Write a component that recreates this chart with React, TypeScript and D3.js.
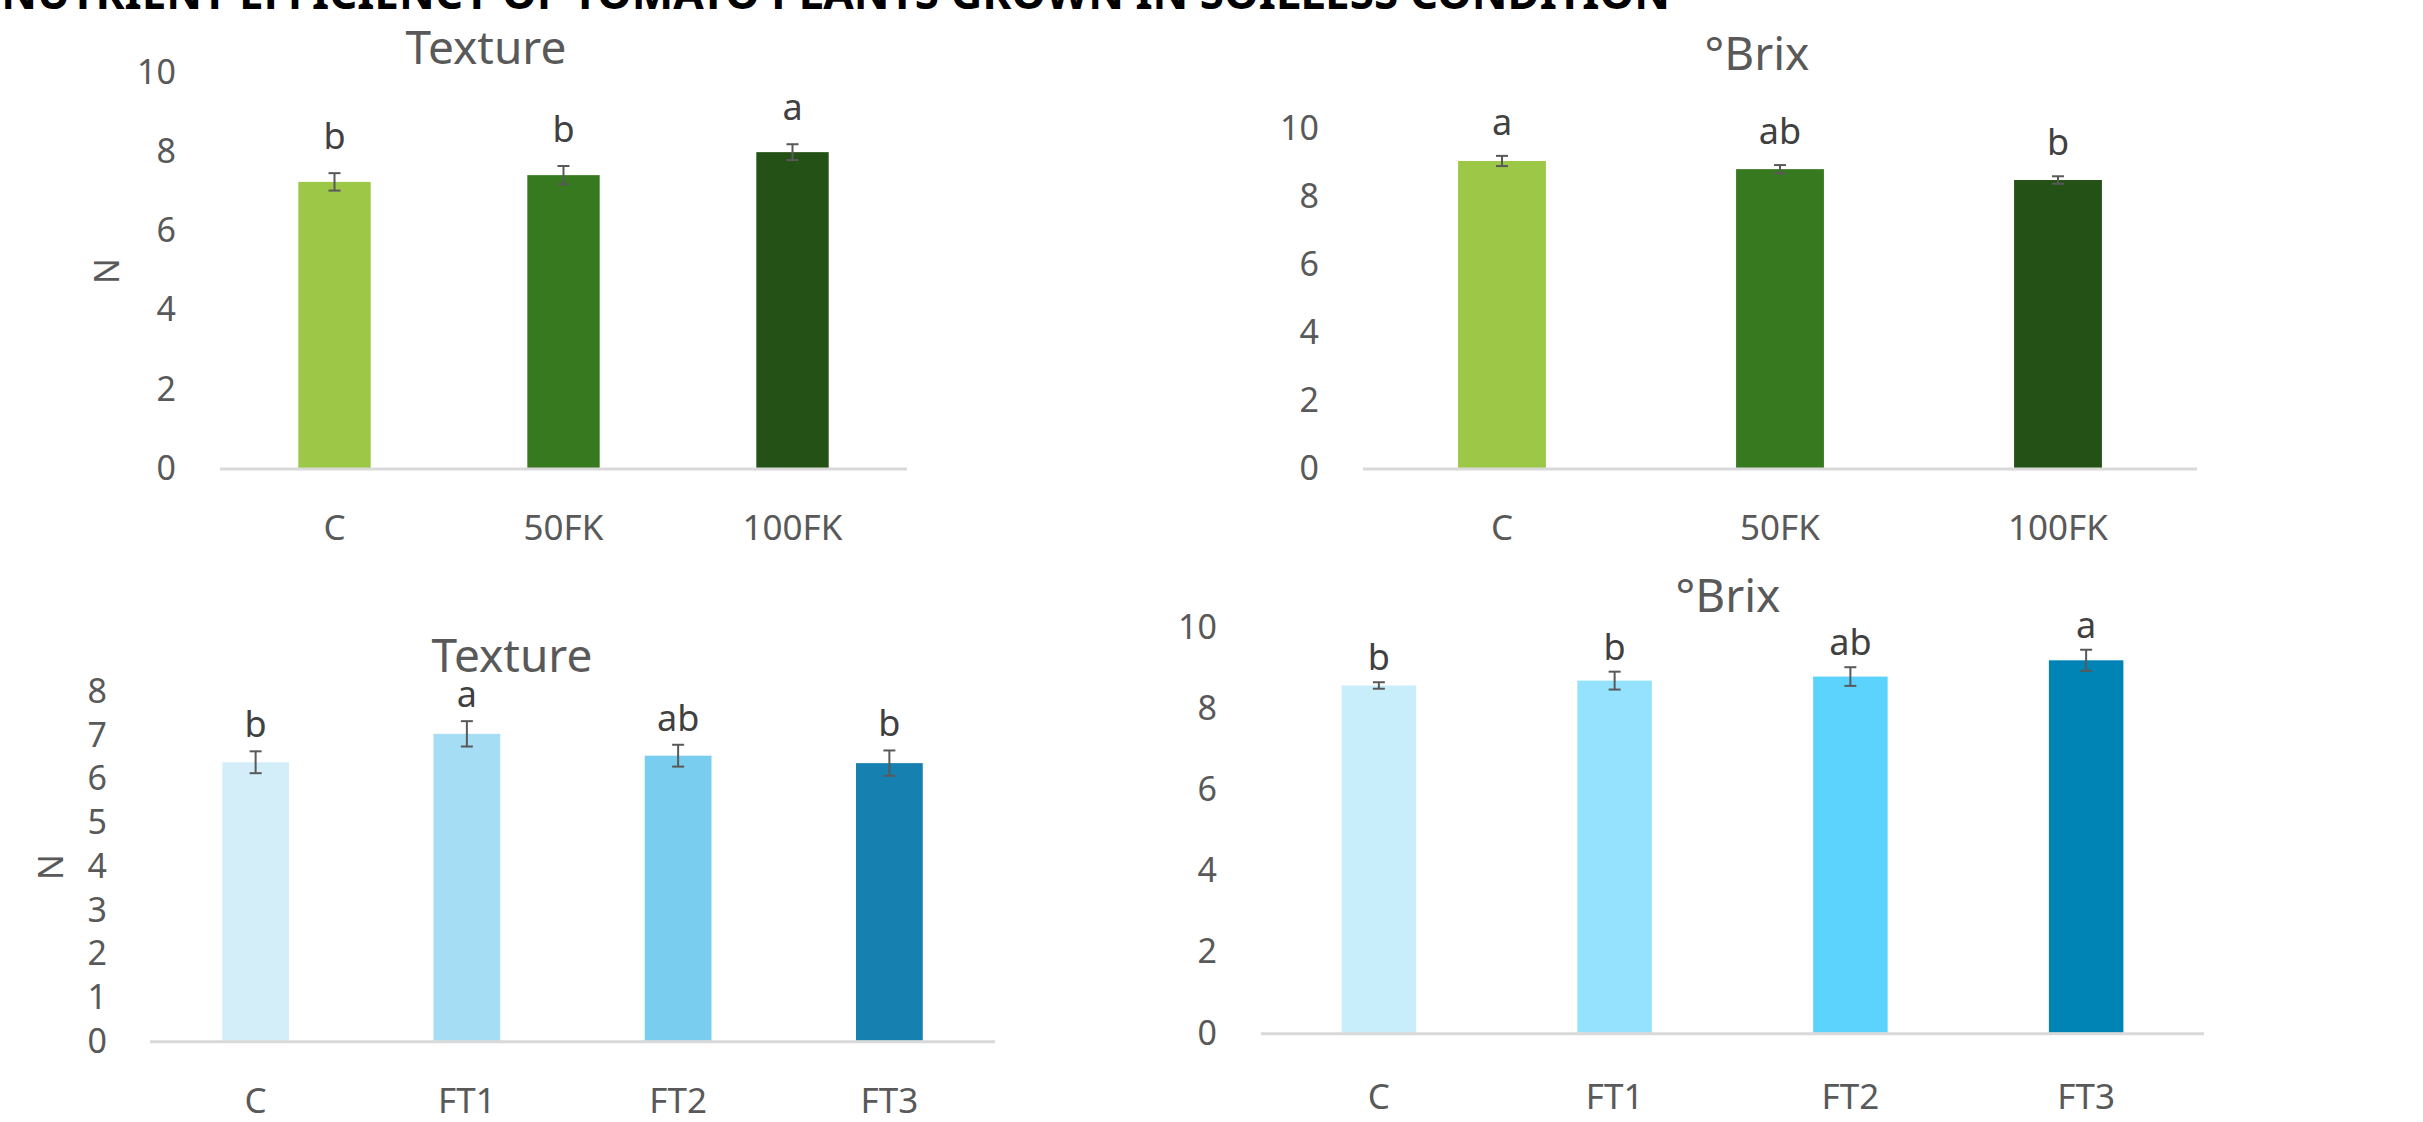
import React from 'react';
import * as d3 from 'd3';

// categories
const fkCategories = ['C', '50FK', '100FK'];
const ftCategories = ['C', 'FT1', 'FT2', 'FT3'];

// texture / brix, fertilizer doses (FK)
const textureFK = [7.22, 7.39, 7.97];
const textureFKErr = [0.22, 0.23, 0.2];
const textureFKLetters = ['b', 'b', 'a'];

const brixFK = [9.03, 8.79, 8.47];
const brixFKErr = [0.15, 0.12, 0.11];
const brixFKLetters = ['a', 'ab', 'b'];

// texture / brix, FT treatments
const textureFT = [6.37, 7.02, 6.52, 6.35];
const textureFTErr = [0.25, 0.29, 0.25, 0.29];
const textureFTLetters = ['b', 'a', 'ab', 'b'];

const brixFT = [8.55, 8.67, 8.77, 9.17];
const brixFTErr = [0.08, 0.22, 0.23, 0.26];
const brixFTLetters = ['b', 'b', 'ab', 'a'];

const ticksTo10 = [0, 2, 4, 6, 8, 10];
const ticksTo8 = [0, 1, 2, 3, 4, 5, 6, 7, 8];

const headerText = 'NUTRIENT EFFICIENCY OF TOMATO PLANTS GROWN IN SOILLESS CONDITION';

const greens = ['#9dc746', '#37791f', '#245116'];
const bluesTexture = ['#d3eef8', '#a5def4', '#79cdef', '#1681b0'];
const bluesBrix = ['#c8eefc', '#94e2fe', '#5cd3fd', '#0083b5'];

const FONT = "'Noto Sans', 'Open Sans', sans-serif";
const GREY = '#595959';

type PanelProps = {
  title: string;
  titleX: number;
  titleY: number;
  categories: string[];
  values: number[];
  errors: number[];
  letters: string[];
  colors: string[];
  ticks: number[];
  yMax: number;
  x0: number;
  x1: number;
  yBase: number;
  yTop: number;
  tickX: number;
  catY: number;
  letterGap: number;
  yLabel?: string;
  yLabelX?: number;
  yLabelY?: number;
};

function BarPanel(p: PanelProps) {
  const x = d3
    .scaleBand<string>()
    .domain(p.categories)
    .range([p.x0, p.x1])
    .paddingInner(0.684)
    .paddingOuter(0.342);
  const y = d3.scaleLinear().domain([0, p.yMax]).range([p.yBase, p.yTop]);
  const bw = x.bandwidth();

  return (
    <g fontFamily={FONT}>
      <text x={p.titleX} y={p.titleY + 16} textAnchor="middle" fontSize={46} fill={GREY}>
        {p.title}
      </text>

      {p.yLabel && (
        <text
          transform={`translate(${p.yLabelX}, ${p.yLabelY}) rotate(-90)`}
          textAnchor="middle"
          dy={12}
          fontSize={34}
          fill={GREY}
        >
          {p.yLabel}
        </text>
      )}

      {p.ticks.map(t => (
        <text key={t} x={p.tickX} y={y(t) + 12} textAnchor="end" fontSize={34} fill={GREY}>
          {t}
        </text>
      ))}

      {p.categories.map((c, i) => {
        const cx = (x(c) as number) + bw / 2;
        const top = y(p.values[i] + p.errors[i]);
        const bot = y(p.values[i] - p.errors[i]);
        return (
          <g key={c}>
            <rect
              x={x(c)}
              y={y(p.values[i])}
              width={bw}
              height={p.yBase - y(p.values[i])}
              fill={p.colors[i]}
            />
            <line x1={cx} x2={cx} y1={top} y2={bot} stroke={GREY} strokeWidth={2} />
            <line x1={cx - 6} x2={cx + 6} y1={top} y2={top} stroke={GREY} strokeWidth={2} />
            <line x1={cx - 6} x2={cx + 6} y1={bot} y2={bot} stroke={GREY} strokeWidth={2} />
            <text x={cx} y={top - p.letterGap} textAnchor="middle" fontSize={36} fill="#404040">
              {p.letters[i]}
            </text>
            <text x={cx} y={p.catY + 13} textAnchor="middle" fontSize={35} fill={GREY}>
              {c}
            </text>
          </g>
        );
      })}

      {/* category axis line */}
      <line x1={p.x0} x2={p.x1} y1={p.yBase + 1} y2={p.yBase + 1} stroke="#d9d9d9" strokeWidth={3} />
    </g>
  );
}

export default function App() {
  return (
    <svg
      width={2423}
      height={1122}
      style={{ position: 'absolute', left: 0, top: 0, background: '#fff' }}
    >
      {/* page heading, mostly cut off at the top edge */}
      <text x={1670} y={9} textAnchor="end" fontFamily={FONT} fontWeight="bold" fontSize={44} fill="#000">
        {headerText}
      </text>

      <BarPanel
        title="Texture"
        titleX={486}
        titleY={48}
        categories={fkCategories}
        values={textureFK}
        errors={textureFKErr}
        letters={textureFKLetters}
        colors={greens}
        ticks={ticksTo10}
        yMax={10}
        x0={220}
        x1={907}
        yBase={468}
        yTop={71.7}
        tickX={176}
        catY={527}
        letterGap={24}
        yLabel="N"
        yLabelX={107}
        yLabelY={271}
      />

      <BarPanel
        title="°Brix"
        titleX={1757}
        titleY={54}
        categories={fkCategories}
        values={brixFK}
        errors={brixFKErr}
        letters={brixFKLetters}
        colors={greens}
        ticks={ticksTo10}
        yMax={10}
        x0={1363}
        x1={2197}
        yBase={468}
        yTop={128}
        tickX={1319}
        catY={527}
        letterGap={21}
      />

      <BarPanel
        title="Texture"
        titleX={512}
        titleY={656}
        categories={ftCategories}
        values={textureFT}
        errors={textureFTErr}
        letters={textureFTLetters}
        colors={bluesTexture}
        ticks={ticksTo8}
        yMax={8}
        x0={150}
        x1={995}
        yBase={1040.7}
        yTop={691}
        tickX={107}
        catY={1100}
        letterGap={14}
        yLabel="N"
        yLabelX={51}
        yLabelY={867}
      />

      <BarPanel
        title="°Brix"
        titleX={1728}
        titleY={596}
        categories={ftCategories}
        values={brixFT}
        errors={brixFTErr}
        letters={brixFTLetters}
        colors={bluesBrix}
        ticks={ticksTo10}
        yMax={10}
        x0={1261}
        x1={2204}
        yBase={1032.7}
        yTop={626.6}
        tickX={1217}
        catY={1096}
        letterGap={12}
      />
    </svg>
  );
}
